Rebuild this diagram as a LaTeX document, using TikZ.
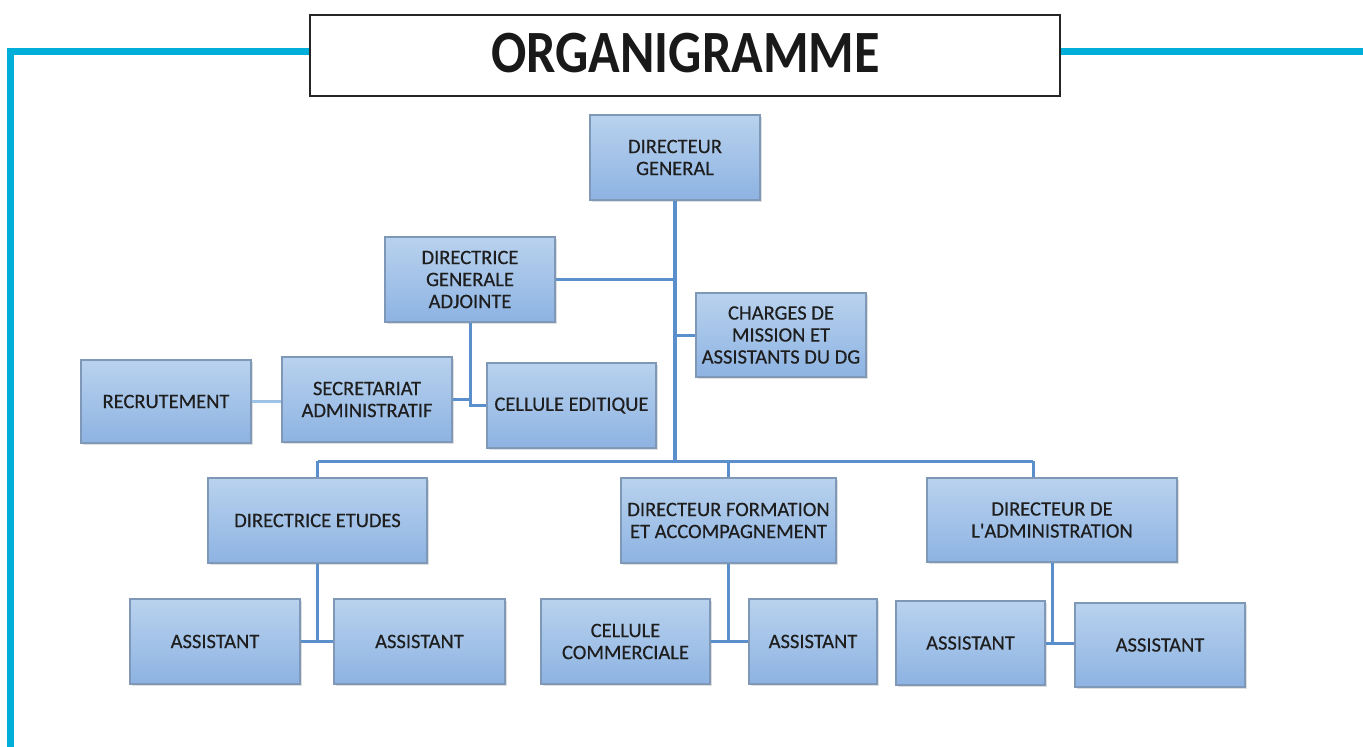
\documentclass[tikz,border=0pt]{standalone}
\usepackage{fontspec}
\usepackage{graphicx}
\setmainfont{Carlito}
\newfontfamily\boxfont[FakeBold=0.4]{Carlito}
\usetikzlibrary{shadows}
\definecolor{frame}{HTML}{00AEDA}
\definecolor{boxtop}{HTML}{B9D2EE}
\definecolor{boxbot}{HTML}{8DB3E2}
\definecolor{boxline}{HTML}{7F98B8}
\definecolor{conncol}{HTML}{5B8FCB}
\definecolor{lightconn}{HTML}{9EC3E8}
\definecolor{txt}{HTML}{1E1E1E}
\tikzset{
  orgbox/.style={draw=boxline, line width=1.2pt, top color=boxtop, bottom color=boxbot,
    align=center, text=txt, font=\boxfont\fontsize{20.5}{22}\selectfont, inner sep=2pt,
    drop shadow={opacity=0.25, shadow xshift=1.5pt, shadow yshift=-1.5pt}},
  conn/.style={draw=conncol, line width=3pt},
  lconn/.style={draw=lightconn, line width=2.5pt},
  framebar/.style={draw=frame, line width=7pt},
}
\begin{document}
\begin{tikzpicture}[x=1pt,y=-1pt]
\useasboundingbox[fill=white] (0,0) rectangle (1363,747);
% frame
\coordinate (fl) at (10.5,747);
\coordinate (fc) at (10.5,51.5);
\coordinate (fr) at (1363,51.5);
\node[draw=black!85, line width=2pt, fill=white, minimum width=750pt, minimum height=81pt, inner sep=0pt] (title) at (684.5,55) {};
\draw[framebar] (fl) -- ([yshift=3.5pt]fc) |- (title.west |- fc);
\draw[framebar] (title.east |- fr) -- (fr);
\node[font=\fontsize{60}{60}\bfseries\selectfont, text=black!90, inner sep=0pt] (ttext) at (685.5,53) {\scalebox{0.87}[1]{ORGANIGRAMME}};
% boxes
\node[orgbox, minimum width=170pt, minimum height=85pt] (dg) at (675,157.5) {DIRECTEUR\\GENERAL};
\node[orgbox, minimum width=170pt, minimum height=85pt] (dga) at (470,279.5) {DIRECTRICE\\GENERALE\\ADJOINTE};
\node[orgbox, minimum width=170pt, minimum height=84pt] (cm) at (781,335) {CHARGES DE\\MISSION ET\\ASSISTANTS DU DG};
\node[orgbox, minimum width=170pt, minimum height=83pt] (rec) at (166,401.5) {RECRUTEMENT};
\node[orgbox, minimum width=170pt, minimum height=85pt] (sa) at (367,399.5) {SECRETARIAT\\ADMINISTRATIF};
\node[orgbox, minimum width=169pt, minimum height=85pt] (ce) at (571.5,405.5) {CELLULE EDITIQUE};
\node[orgbox, minimum width=219pt, minimum height=85pt] (de) at (317.5,520.5) {DIRECTRICE ETUDES};
\node[orgbox, minimum width=215pt, minimum height=85pt] (df) at (728.5,520.5) {DIRECTEUR FORMATION\\ET ACCOMPAGNEMENT};
\node[orgbox, minimum width=250pt, minimum height=84pt] (da) at (1052,520) {DIRECTEUR DE\\L'ADMINISTRATION};
\node[orgbox, minimum width=170pt, minimum height=85pt] (a1) at (215,641.5) {ASSISTANT};
\node[orgbox, minimum width=171pt, minimum height=85pt] (a2) at (419.5,641.5) {ASSISTANT};
\node[orgbox, minimum width=169pt, minimum height=85pt] (cc) at (625.5,641.5) {CELLULE\\COMMERCIALE};
\node[orgbox, minimum width=128pt, minimum height=85pt] (a3) at (813,641.5) {ASSISTANT};
\node[orgbox, minimum width=149pt, minimum height=84pt] (a4) at (970.5,643) {ASSISTANT};
\node[orgbox, minimum width=170pt, minimum height=84pt] (a5) at (1160,645) {ASSISTANT};
% bus
\coordinate (busL) at (318,461);
\coordinate (busR) at (1033,461);
% connectors
\draw[conn, line width=3.5pt] (dg.south) -- (dg.south |- busL);
\draw[conn] (busL) -- (busR);
\draw[conn] (dga.east) -- (dga.east -| dg.south);
\draw[conn] (cm.west) -- (cm.west -| dg.south);
\draw[conn] (de.north) -- (de.north |- busL);
\draw[conn] (df.north) -- (df.north |- busL);
\draw[conn] (da.north -| busR) -- (busR);
\draw[conn] (dga.south) -- (dga.south |- ce.west) -- (ce.west);
\draw[conn] (sa.east) -- (sa.east -| dga.south);
\draw[lconn] (rec.east) -- (rec.east -| sa.west);
\draw[conn] (de.south) -- (de.south |- a1.east);
\draw[conn] (a1.east) -- (a2.west);
\draw[conn] (df.south) -- (df.south |- cc.east);
\draw[conn] (cc.east) -- (a3.west);
\draw[conn] (da.south) -- (da.south |- a4.east);
\draw[conn] (a4.east) -- (a4.east -| a5.west);
\end{tikzpicture}
\end{document}
